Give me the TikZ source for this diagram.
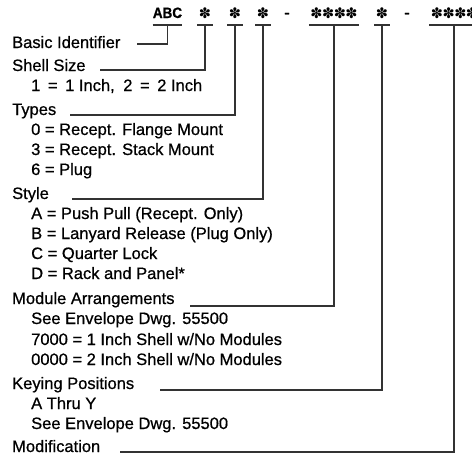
\documentclass[tikz,border=0pt]{standalone}
\usepackage{fontspec}
\setmainfont{Liberation Sans}[FakeBold=0.7]
\newfontfamily\symfont{DejaVu Sans}
\tikzset{
  hdr/.style={anchor=base west, inner sep=0pt, font=\fontsize{16.5}{20}\selectfont},
  itm/.style={hdr},
  topt/.style={anchor=base, inner sep=0pt},
  ast/.style={anchor=center, inner xsep=1.5pt, inner ysep=0pt, font=\symfont\fontsize{14.5}{14}\selectfont},
  ln/.style={line width=1.1pt, draw=black!80},
}
\begin{document}
\begin{tikzpicture}[x=1pt,y=-1pt]
\path[use as bounding box] (0,0) rectangle (472,458);
\clip (0,0) rectangle (472,458);
% top code line
\node[topt, font=\bfseries\fontsize{15}{15}\selectfont] (abc) at (167.5,18) {\scalebox{0.9}[1]{ABC}};
\node[ast] (s1) at (205,13) {✽};
\node[ast] (s2) at (235,13) {✽};
\node[ast] (s3) at (263,13) {✽};
\node[topt, font=\fontsize{16.5}{16}\selectfont] (d1) at (287,18) {-};
\node[ast] (s4) at (334,13) {✽\kern-0.5pt✽\kern-0.5pt✽\kern-0.5pt✽};
\node[ast] (s5) at (382,13) {✽};
\node[topt, font=\fontsize{16.5}{16}\selectfont] (d2) at (407,18) {-};
\node[ast] (s6) at (454.5,13) {✽\kern-0.5pt✽\kern-0.5pt✽\kern-0.5pt✽};
\coordinate (ul) at (0,25);
\foreach \n in {abc,s1,s2,s3,s4,s5,s6}{
  \draw[ln] (\n.west |- ul) -- (\n.east |- ul);
}
% headers
\node[hdr] (bi) at (12,48) {Basic Identifier};
\node[hdr] (sh) at (12,71) {Shell Size};
\node[itm] (sh1) at (31,91) {1\hspace{3pt} = \hspace{3pt}1 Inch,\hspace{4pt} 2\hspace{3pt} = \hspace{3pt}2 Inch};
\node[hdr] (ty) at (12,115) {Types};
\node[itm] (ty1) at (31,135) {0 = Recept. Flange Mount};
\node[itm] (ty2) at (31,155) {3 = Recept. Stack Mount};
\node[itm] (ty3) at (31,175) {6 = Plug};
\node[hdr] (st) at (12,199) {Style};
\node[itm] (st1) at (31,219) {A = Push Pull (Recept. Only)};
\node[itm] (st2) at (31,239) {B = Lanyard Release (Plug Only)};
\node[itm] (st3) at (31,259) {C = Quarter Lock};
\node[itm] (st4) at (31,279) {D = Rack and Panel*};
\node[hdr] (mo) at (12,304) {Module Arrangements};
\node[itm] (mo1) at (31,324) {See Envelope Dwg. 55500};
\node[itm] (mo2) at (31,345) {7000 = 1 Inch Shell w/No Modules};
\node[itm] (mo3) at (31,365) {0000 = 2 Inch Shell w/No Modules};
\node[hdr] (ke) at (12,389) {Keying Positions};
\node[itm] (ke1) at (31,409) {A Thru Y};
\node[itm] (ke2) at (31,429) {See Envelope Dwg. 55500};
\node[hdr] (mf) at (12,452) {Modification};
% leader ends
\coordinate (biE) at (137,44);
\coordinate (shE) at (100,70);
\coordinate (tyE) at (70,115);
\coordinate (stE) at (72,199);
\coordinate (moE) at (190,306);
\coordinate (keE) at (160,390);
\coordinate (mfE) at (120,452);
% connectors
\draw[ln] (abc.center |- ul) |- (biE);
\draw[ln] (s1.center |- ul) |- (shE);
\draw[ln] (s2.center |- ul) |- (tyE);
\draw[ln] (s3.center |- ul) |- (stE);
\draw[ln] (s4.center |- ul) |- (moE);
\draw[ln] (s5.center |- ul) |- (keE);
\draw[ln] ([xshift=-0.5pt]s6.center |- ul) |- (mfE);
\end{tikzpicture}
\end{document}
